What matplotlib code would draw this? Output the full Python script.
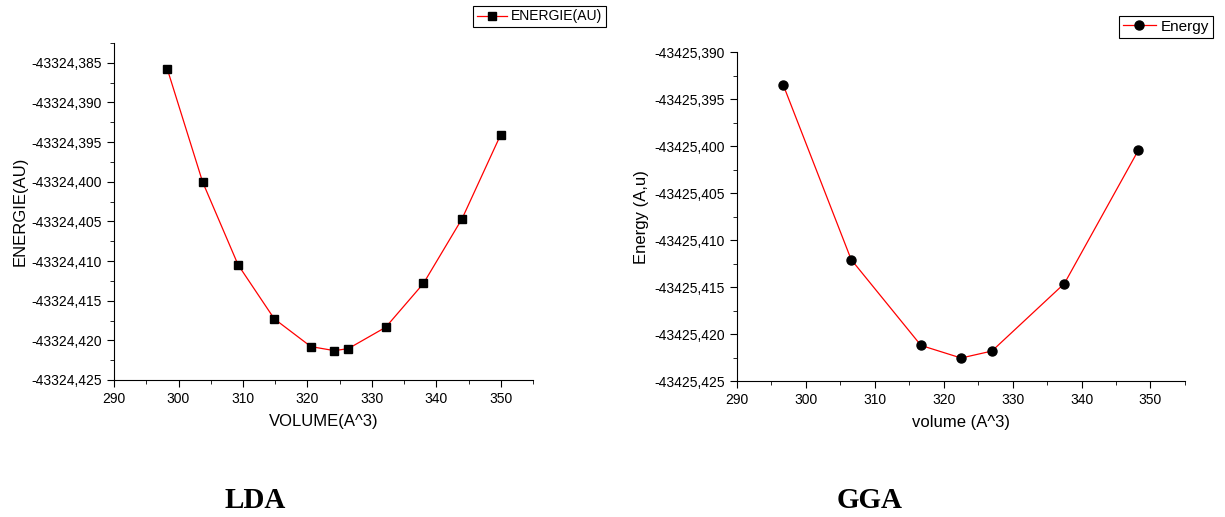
import matplotlib
matplotlib.use("Agg")
import matplotlib.pyplot as plt
from matplotlib import ticker

plt.rcParams['font.family'] = ['Liberation Sans', 'DejaVu Sans']

# LDA data
lda_volume = [298.25, 303.74, 309.24, 314.86, 320.54, 324.2, 326.35, 332.15, 338.0, 344.0, 350.0]
lda_energy = [-43324.38576, -43324.40003, -43324.41047, -43324.41729, -43324.42079, -43324.4213,
              -43324.42104, -43324.41835, -43324.41283, -43324.40466, -43324.39405]

# GGA data
gga_volume = [296.73, 306.57, 316.7, 322.52, 326.99, 337.51, 348.26]
gga_energy = [-43425.39351, -43425.41207, -43425.42121, -43425.42255, -43425.42181, -43425.41462, -43425.40041]


def comma_fmt(v, pos):
    return f"{v:.3f}".replace('.', ',')


def style_axes(ax, ylo, yhi):
    for s in ['top', 'right']:
        ax.spines[s].set_visible(False)
    ax.set_xlim(290, 355)
    ax.set_ylim(ylo, yhi)
    ax.xaxis.set_major_locator(ticker.MultipleLocator(10))
    ax.xaxis.set_minor_locator(ticker.MultipleLocator(5))
    ax.yaxis.set_major_locator(ticker.MultipleLocator(0.005))
    ax.yaxis.set_minor_locator(ticker.MultipleLocator(0.0025))
    ax.yaxis.set_major_formatter(ticker.FuncFormatter(comma_fmt))
    ax.tick_params(which='major', direction='out', length=5, labelsize=10)
    ax.tick_params(which='minor', direction='out', length=3)


fig = plt.figure(figsize=(12.25, 5.17), dpi=100)

ax1 = fig.add_axes([0.0931, 0.265, 0.342, 0.652])
ax1.plot(lda_volume, lda_energy, color='red', lw=0.9, marker='s', ms=6,
         mfc='black', mec='black', label='ENERGIE(AU)')
style_axes(ax1, -43324.425, -43324.3825)
ax1.set_xlabel('VOLUME(A^3)', fontsize=12, labelpad=6)
ax1.set_ylabel('ENERGIE(AU)', fontsize=12, labelpad=3)
leg1 = fig.legend(handles=ax1.get_lines(), loc='upper right', bbox_to_anchor=(606 / 1225, 1 - 6 / 517),
                  fontsize=10, fancybox=False, edgecolor='black', framealpha=1,
                  borderpad=0.25, handlelength=2.2, handletextpad=0.3, borderaxespad=0)
leg1.get_frame().set_linewidth(0.8)

ax2 = fig.add_axes([0.6016, 0.263, 0.3657, 0.636])
ax2.plot(gga_volume, gga_energy, color='red', lw=0.9, marker='o', ms=6.5,
         mfc='black', mec='black', label='Energy')
style_axes(ax2, -43425.425, -43425.390)
ax2.set_xlabel('volume (A^3)', fontsize=12, labelpad=6)
ax2.set_ylabel('Energy (A,u)', fontsize=12, labelpad=4)
leg2 = fig.legend(handles=ax2.get_lines(), loc='upper right', bbox_to_anchor=(1213 / 1225, 1 - 16 / 517),
                  fontsize=11, fancybox=False, edgecolor='black', framealpha=1,
                  borderpad=0.25, handlelength=2.2, handletextpad=0.3, borderaxespad=0)
leg2.get_frame().set_linewidth(0.8)

fig.text(255 / 1225, 1 - 500 / 517, 'LDA', ha='center', va='center', fontsize=21,
         fontweight='bold', family=['Liberation Serif', 'DejaVu Serif'])
fig.text(870 / 1225, 1 - 500 / 517, 'GGA', ha='center', va='center', fontsize=21,
         fontweight='bold', family=['Liberation Serif', 'DejaVu Serif'])

fig.savefig('out.png', dpi=100)
